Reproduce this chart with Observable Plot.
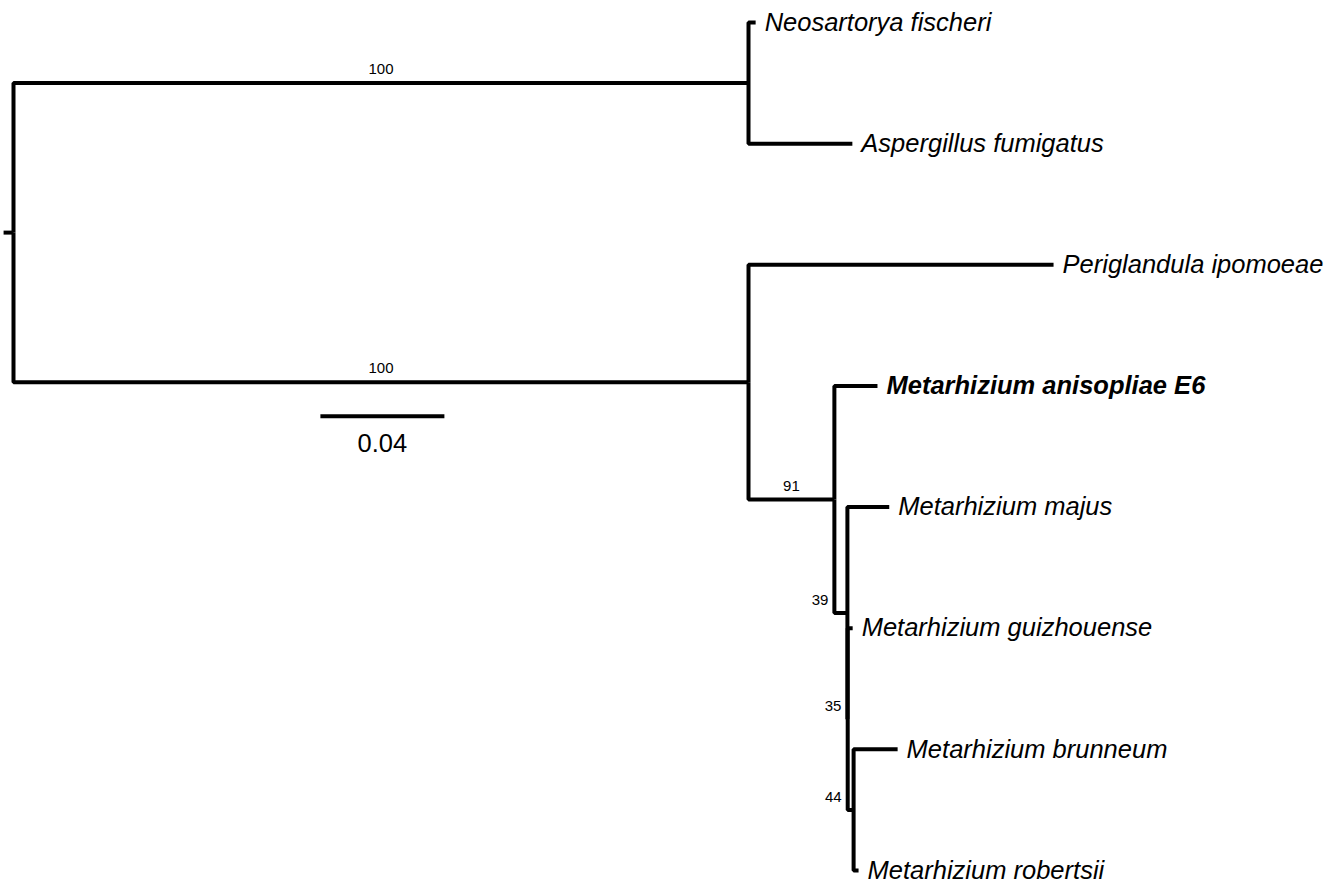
<!DOCTYPE html>
<html>
<head>
<meta charset="utf-8">
<script src="https://cdn.jsdelivr.net/npm/d3@7"></script>
<script src="https://cdn.jsdelivr.net/npm/@observablehq/plot@0.6"></script>
<style>
  body { margin: 0; background: #fff; }
  #chart svg { display: block; }
</style>
</head>
<body>
<div id="chart"></div>
<script>
// ---- Tree data ----
const nodeNames = [
  "root", "n1", "Neosartorya fischeri", "Aspergillus fumigatus",
  "n2", "Periglandula ipomoeae", "n3", "Metarhizium anisopliae E6",
  "n4", "Metarhizium majus", "n5", "Metarhizium guizhouense",
  "n6", "Metarhizium brunneum", "Metarhizium robertsii"
];
const parentNames = [
  null, "root", "n1", "n1",
  "root", "n2", "n2", "n3",
  "n3", "n4", "n4", "n5",
  "n5", "n6", "n6"
];
const branchLengths = [
  0, 0.2371, 0.0023, 0.0335,
  0.2371, 0.0984, 0.0277, 0.0139,
  0.0042, 0.0135, 0.0001, 0.0016,
  0.0019, 0.0142, 0.0016
];
const supportValues = [
  null, 100, null, null,
  100, null, 91, null,
  39, null, 35, null,
  44, null, null
];
const highlightedTips = ["Metarhizium anisopliae E6"];
const rootStem = 0.0032;
const scaleBarLength = 0.04;

// ---- Build layout ----
const byName = new Map();
nodeNames.forEach((name, i) => byName.set(name, {
  name, parent: parentNames[i], length: branchLengths[i],
  support: supportValues[i], children: []
}));
for (const n of byName.values()) if (n.parent) byName.get(n.parent).children.push(n);
const root = byName.get("root");
let tipIndex = 0;
(function layout(n, x0) {
  n.x = x0 + n.length;
  n.children.forEach(c => layout(c, n.x));
  if (n.children.length === 0) n.y = tipIndex++;
  else n.y = d3.mean(n.children, c => c.y);
})(root, 0);

const all = [...byName.values()];
const edges = all.filter(n => n.parent).map(n => {
  const p = byName.get(n.parent);
  return {px: p.x, py: p.y, x: n.x, y: n.y, support: n.support, length: n.length};
});
const tips = all.filter(n => n.children.length === 0);
const supported = edges.filter(e => e.support != null);
const longSupport = supported.filter(e => e.length >= 0.01);
const shortSupport = supported.filter(e => e.length < 0.01);

const font = "Liberation Sans, Arial, Helvetica, sans-serif";
const scaleBarX = 0.099;
const scaleBarY = 3.25;

const chart = Plot.plot({
  width: 1330,
  height: 885,
  margin: 0,
  x: {domain: [0, 0.4], range: [13, 1253], axis: null},
  y: {domain: [0, tipIndex - 1], range: [22, 870], axis: null},
  style: {fontFamily: font, background: "white", color: "black"},
  marks: [
    Plot.link(edges, {
      x1: "px", y1: "py", x2: "x", y2: "y",
      curve: "step-before",
      stroke: "black", strokeWidth: 4,
      strokeLinejoin: "miter", strokeLinecap: "butt"
    }),
    Plot.link([root], {
      x1: d => d.x - rootStem, x2: "x", y1: "y", y2: "y",
      stroke: "black", strokeWidth: 4
    }),
    Plot.text(tips.filter(d => !highlightedTips.includes(d.name)), {
      x: "x", y: "y", text: "name", dx: 9,
      textAnchor: "start", lineAnchor: "middle",
      fontSize: 25.5, fontStyle: "italic", fill: "black"
    }),
    Plot.text(tips.filter(d => highlightedTips.includes(d.name)), {
      x: "x", y: "y", text: "name", dx: 9,
      textAnchor: "start", lineAnchor: "middle",
      fontSize: 25.5, fontStyle: "italic", fontWeight: "bold", fill: "black"
    }),
    Plot.text(longSupport, {
      x: d => (d.px + d.x) / 2, y: "y", text: d => String(d.support),
      textAnchor: "middle", lineAnchor: "bottom", dy: -9,
      fontSize: 15, fill: "black"
    }),
    Plot.text(shortSupport, {
      x: "px", y: "y", text: d => String(d.support),
      textAnchor: "end", lineAnchor: "bottom", dx: -6, dy: -8,
      fontSize: 15, fill: "black"
    }),
    Plot.link([scaleBarLength], {
      x1: () => scaleBarX, x2: d => scaleBarX + d,
      y1: () => scaleBarY, y2: () => scaleBarY,
      stroke: "black", strokeWidth: 4
    }),
    Plot.text([scaleBarLength], {
      x: d => scaleBarX + d / 2, y: () => scaleBarY, text: d => String(d),
      textAnchor: "middle", lineAnchor: "bottom", dy: 36,
      fontSize: 25.5, fill: "black"
    })
  ]
});
document.getElementById("chart").appendChild(chart);
</script>
</body>
</html>
